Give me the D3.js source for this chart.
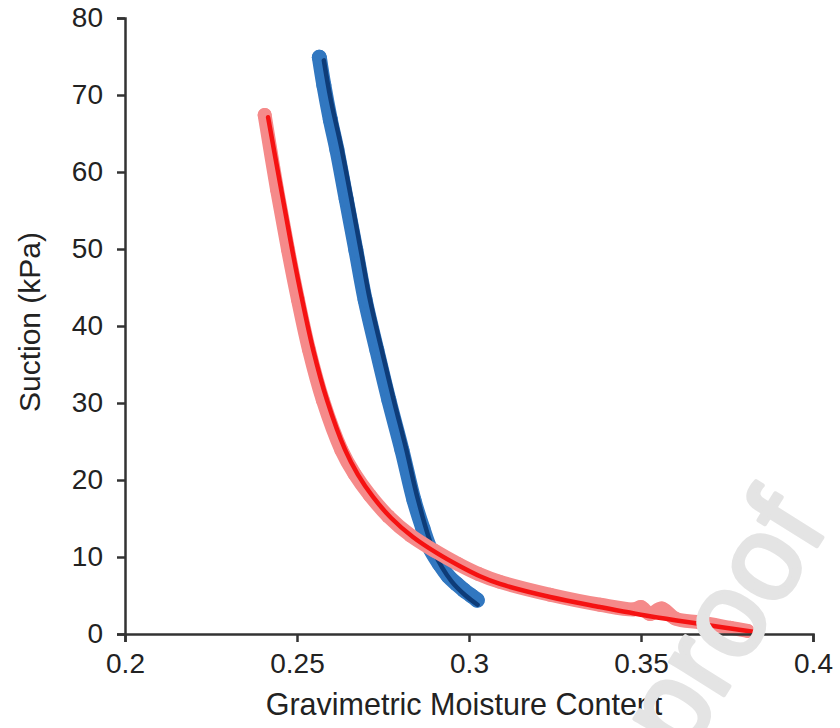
<!DOCTYPE html>
<html>
<head>
<meta charset="utf-8">
<script src="https://cdn.jsdelivr.net/npm/d3@7"></script>
<style>
  html, body { margin: 0; padding: 0; background: #fff; }
  svg { display: block; font-family: "Liberation Sans", Arial, sans-serif; }
</style>
</head>
<body>
<svg id="chart" width="840" height="728"></svg>
<script>
// ---- data ----
const xTicks = [0.2, 0.25, 0.3, 0.35, 0.4];
const xTickLabels = ["0.2", "0.25", "0.3", "0.35", "0.4"];
const yTicks = [0, 10, 20, 30, 40, 50, 60, 70, 80];
const xTitle = "Gravimetric Moisture Content";
const yTitle = "Suction (kPa)";

// measured points (blue soil)
const blueMoisture = [0.2565, 0.2578, 0.2597, 0.2616, 0.2643, 0.2671, 0.2698, 0.2732, 0.2767, 0.2805, 0.2840, 0.2866, 0.2887, 0.2914, 0.2940, 0.2964, 0.2985, 0.3006, 0.3024];
const blueSuction  = [74.9, 71.3, 66.8, 62.9, 56.5, 49.9, 43.4, 36.9, 30.4, 23.9, 17.4, 13.7, 11.1, 9.1, 7.5, 6.5, 5.7, 5.0, 4.4];
// fitted curve (blue soil)
const blueFitMoisture = [0.2578, 0.2598, 0.2630, 0.2685, 0.2712, 0.2746, 0.2781, 0.2818, 0.2852, 0.2899, 0.2950, 0.2990, 0.3025];
const blueFitSuction  = [74.5, 69.4, 62.9, 49.9, 43.4, 36.9, 30.4, 23.9, 17.4, 10.6, 6.8, 5.0, 3.8];

// measured points (red soil)
const redMoisture = [0.2406, 0.2442, 0.2474, 0.2503, 0.2535, 0.2575, 0.2629, 0.2667, 0.2712, 0.2765, 0.2830, 0.2900, 0.2968, 0.3028, 0.3088, 0.3236, 0.3381, 0.3480, 0.3500, 0.3526, 0.3560, 0.3600, 0.3672, 0.3760, 0.3810];
const redSuction  = [67.4, 57.7, 49.9, 43.4, 36.9, 30.4, 23.9, 20.8, 18.0, 15.3, 12.8, 10.8, 9.1, 7.8, 6.8, 5.1, 3.8, 3.2, 3.5, 2.6, 3.3, 2.0, 1.5, 0.8, 0.4];
// fitted curve (red soil)
const redFitMoisture = [0.2416, 0.2454, 0.2486, 0.2515, 0.2547, 0.2587, 0.2640, 0.2677, 0.2721, 0.2773, 0.2837, 0.2907, 0.2974, 0.3032, 0.3090, 0.3236, 0.3381, 0.3526, 0.3672, 0.3826];
const redFitSuction  = [67.1, 57.7, 49.9, 43.4, 36.9, 30.4, 23.9, 20.7, 17.8, 15.1, 12.6, 10.5, 8.8, 7.5, 6.5, 4.8, 3.5, 2.3, 1.3, 0.3];

const watermark = "Journal Pre-proof";

// ---- layout ----
const svg = d3.select("#chart");
const M = { left: 125, top: 18, right: 27, bottom: 94 };
const W = 840 - M.left - M.right;
const H = 728 - M.top - M.bottom;

const x = d3.scaleLinear().domain([0.2, 0.4]).range([0, W]);
const y = d3.scaleLinear().domain([0, 80]).range([H, 0]);

const g = svg.append("g").attr("transform", `translate(${M.left},${M.top})`);

const zip = (xs, ys) => xs.map((v, i) => [v, ys[i]]);
const line = d3.line().x(d => x(d[0])).y(d => y(d[1])).curve(d3.curveCatmullRom.alpha(0.5));

function series(pts, fit, bandColor, lineColor, bandW) {
  const P = zip(pts[0], pts[1]);
  const F = zip(fit[0], fit[1]);
  g.append("path").datum(P).attr("d", line)
    .attr("fill", "none").attr("stroke", bandColor)
    .attr("stroke-width", bandW).attr("stroke-linecap", "round").attr("stroke-linejoin", "round");
  g.append("g").selectAll("circle").data(P).join("circle")
    .attr("cx", d => x(d[0])).attr("cy", d => y(d[1])).attr("r", bandW / 2)
    .attr("fill", bandColor);
  g.append("path").datum(F).attr("d", line)
    .attr("fill", "none").attr("stroke", lineColor)
    .attr("stroke-width", 4.5).attr("stroke-linecap", "round");
}

series([blueMoisture, blueSuction], [blueFitMoisture, blueFitSuction], "#3177c0", "#0e3c78", 15);
series([redMoisture, redSuction], [redFitMoisture, redFitSuction], "#f58a8a", "#f51212", 14);

// ---- axes ----
const xAxis = d3.axisBottom(x).tickValues(xTicks)
  .tickFormat((d, i) => xTickLabels[i]).tickSize(8).tickPadding(11);
const yAxis = d3.axisLeft(y).tickValues(yTicks).tickSize(8).tickPadding(14);

const gx = g.append("g").attr("transform", `translate(0,${H})`).call(xAxis);
const gy = g.append("g").call(yAxis);
[gx, gy].forEach(a => {
  a.selectAll("path, line").attr("stroke", "#333").attr("stroke-width", 2.5);
  a.selectAll("text").attr("font-size", 28).attr("fill", "#222")
    .attr("font-family", "'Liberation Sans', Arial, sans-serif");
});

svg.append("text")
  .attr("x", M.left + W / 2 - 5).attr("y", 715)
  .attr("text-anchor", "middle").attr("font-size", 30.5).attr("fill", "#222")
  .text(xTitle);

svg.append("text")
  .attr("transform", `translate(40,${M.top + H / 2 - 4}) rotate(-90)`)
  .attr("text-anchor", "middle").attr("font-size", 30).attr("fill", "#222")
  .text(yTitle);

// watermark
svg.append("text")
  .attr("transform", "translate(829,527) rotate(-58)")
  .attr("text-anchor", "end").attr("font-size", 120)
  .attr("fill", "#e4e4e4").attr("stroke", "#e4e4e4").attr("stroke-width", 4)
  .attr("stroke-linejoin", "round")
  .text(watermark);
</script>
</body>
</html>
